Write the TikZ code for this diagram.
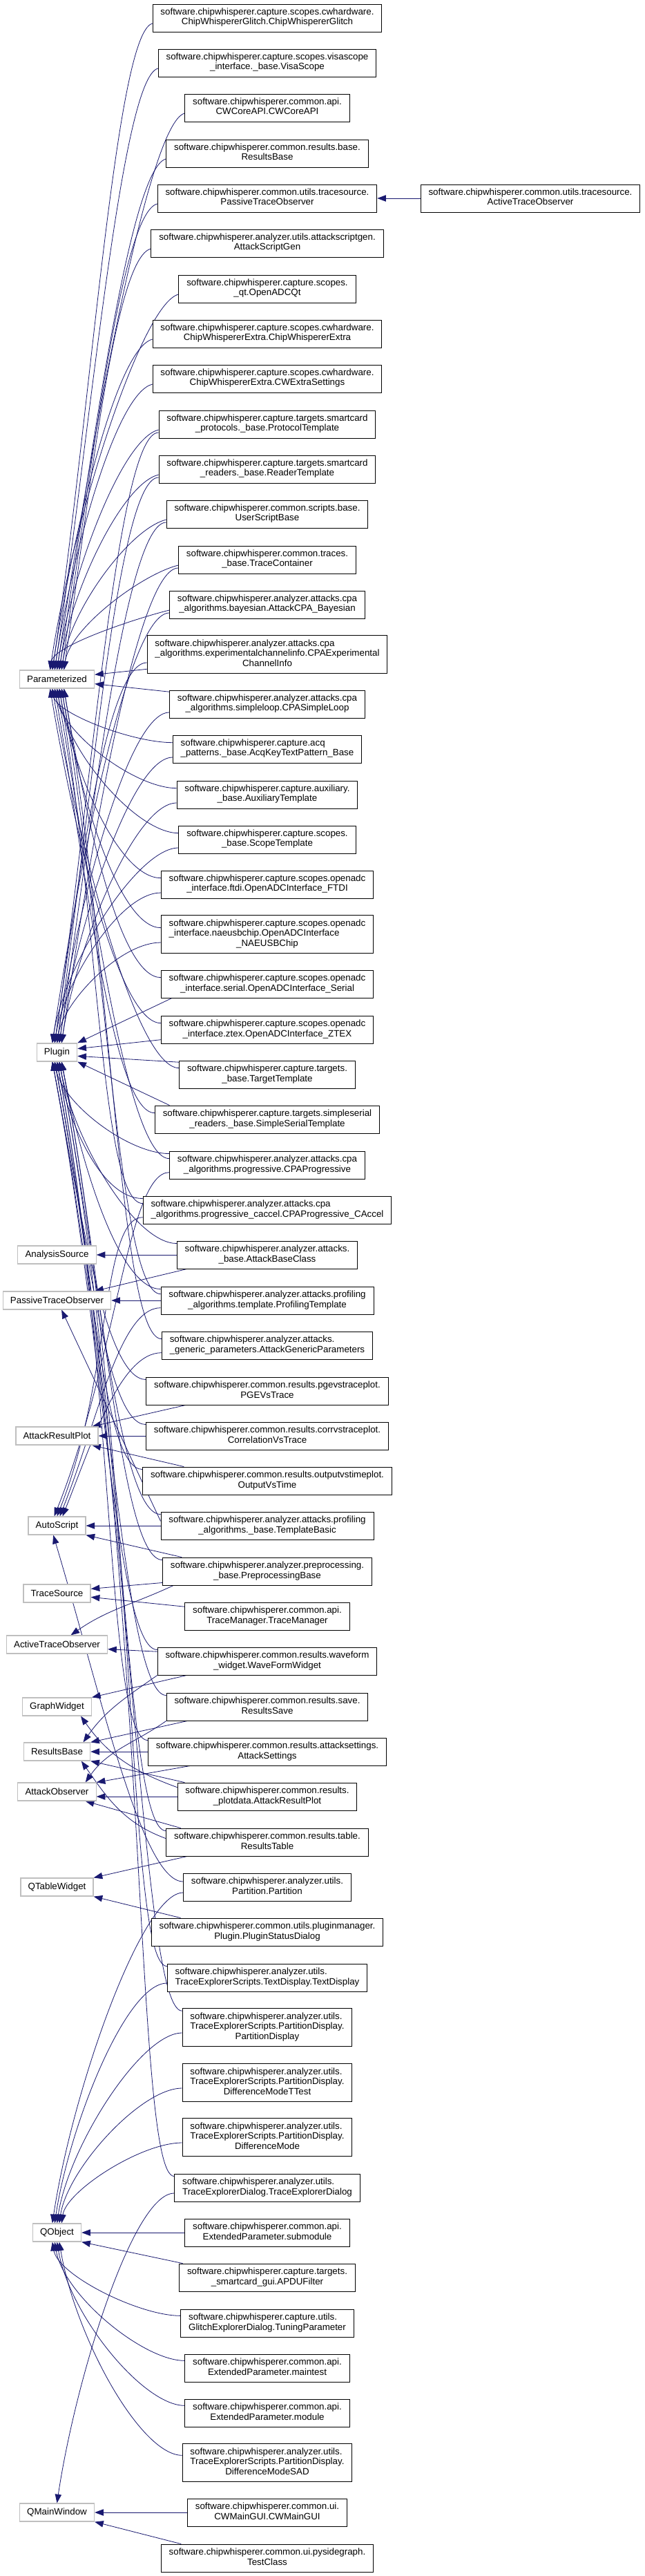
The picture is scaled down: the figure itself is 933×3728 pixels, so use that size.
\documentclass[tikz,border=0pt]{standalone}
\usepackage{fontspec}
\setmainfont{Liberation Sans}
\usetikzlibrary{arrows.meta,calc}

\definecolor{edgeblue}{RGB}{25,25,112}
\definecolor{basegrey}{RGB}{191,191,191}

\pgfdeclarelayer{bg}
\pgfdeclarelayer{edges}
\pgfsetlayers{bg,edges,main}

% class label: all lines left, last one centred
\newcommand{\clsbox}[2]{\begin{tabular}{@{}l@{}}#1\\\multicolumn{1}{@{}c@{}}{#2}\end{tabular}}

\tikzset{
  cls/.style={draw=black, line width=0.7pt, fill=white, inner xsep=8.5pt, inner ysep=0pt,
    minimum height=30pt, font=\fontsize{10}{10.7}\selectfont},
  cls3/.style={cls, minimum height=41pt},
  basecls/.style={draw=basegrey, line width=0.9pt, fill=white, inner xsep=8pt, inner ysep=0pt,
    minimum height=19.5pt, font=\fontsize{10}{10.7}\selectfont},
  inh/.style={draw=edgeblue, line width=0.6pt, -{Triangle[length=9.5pt,width=7pt]}}
}

\begin{document}
\begin{tikzpicture}[x=0.75pt, y=-0.75pt]

\begin{pgfonlayer}{bg}
  \fill[white] (0,0) rectangle (933,3728);
\end{pgfonlayer}
\useasboundingbox (0,0) rectangle (933,3728);

% base classes
\node[basecls] (param)       at (82.5,983)  {Parameterized};
\node[basecls] (plugin)      at (82.5,1523) {Plugin};
\node[basecls] (analysissrc) at (82.5,1816) {AnalysisSource};
\node[basecls] (passiveobs)  at (82.5,1882) {PassiveTraceObserver};
\node[basecls] (resultplot)  at (82.5,2078) {AttackResultPlot};
\node[basecls] (autoscript)  at (82.5,2208) {AutoScript};
\node[basecls] (tracesrc)    at (82.5,2306) {TraceSource};
\node[basecls] (activeobs)   at (82.5,2380) {ActiveTraceObserver};
\node[basecls] (graphwidget) at (82.5,2470) {GraphWidget};
\node[basecls] (resultsbase) at (82.5,2535) {ResultsBase};
\node[basecls] (attackobs)   at (82.5,2593) {AttackObserver};
\node[basecls] (qtable)      at (82.5,2731) {QTableWidget};
\node[basecls] (qobject)     at (82.5,3231) {QObject};
\node[basecls] (qmainwin)    at (82.5,3636) {QMainWindow};

% derived classes
\node[cls] (glitch)     at (387,26)   {\clsbox{software.chipwhisperer.capture.scopes.cwhardware.}{ChipWhispererGlitch.ChipWhispererGlitch}};
\node[cls] (visa)       at (387,91)   {\clsbox{software.chipwhisperer.capture.scopes.visascope}{\_interface.\_base.VisaScope}};
\node[cls] (coreapi)    at (387,156)  {\clsbox{software.chipwhisperer.common.api.}{CWCoreAPI.CWCoreAPI}};
\node[cls] (resbase)    at (387,222)  {\clsbox{software.chipwhisperer.common.results.base.}{ResultsBase}};
\node[cls] (passive)    at (387,287)  {\clsbox{software.chipwhisperer.common.utils.tracesource.}{PassiveTraceObserver}};
\node[cls] (active)     at (768,287)  {\clsbox{software.chipwhisperer.common.utils.tracesource.}{ActiveTraceObserver}};
\node[cls] (scriptgen)  at (387,352)  {\clsbox{software.chipwhisperer.analyzer.utils.attackscriptgen.}{AttackScriptGen}};
\node[cls] (adcqt)      at (387,418)  {\clsbox{software.chipwhisperer.capture.scopes.}{\_qt.OpenADCQt}};
\node[cls] (cwextra)    at (387,483)  {\clsbox{software.chipwhisperer.capture.scopes.cwhardware.}{ChipWhispererExtra.ChipWhispererExtra}};
\node[cls] (extraset)   at (387,548)  {\clsbox{software.chipwhisperer.capture.scopes.cwhardware.}{ChipWhispererExtra.CWExtraSettings}};
\node[cls] (protocol)   at (387,614)  {\clsbox{software.chipwhisperer.capture.targets.smartcard}{\_protocols.\_base.ProtocolTemplate}};
\node[cls] (reader)     at (387,679)  {\clsbox{software.chipwhisperer.capture.targets.smartcard}{\_readers.\_base.ReaderTemplate}};
\node[cls] (userscript) at (387,744)  {\clsbox{software.chipwhisperer.common.scripts.base.}{UserScriptBase}};
\node[cls] (tracecont)  at (387,810)  {\clsbox{software.chipwhisperer.common.traces.}{\_base.TraceContainer}};
\node[cls] (bayesian)   at (387,875)  {\clsbox{software.chipwhisperer.analyzer.attacks.cpa}{\_algorithms.bayesian.AttackCPA\_Bayesian}};
\node[cls3] (expchan)   at (387,947)  {\clsbox{software.chipwhisperer.analyzer.attacks.cpa\\\_algorithms.experimentalchannelinfo.CPAExperimental}{ChannelInfo}};
\node[cls] (simpleloop) at (387,1019) {\clsbox{software.chipwhisperer.analyzer.attacks.cpa}{\_algorithms.simpleloop.CPASimpleLoop}};
\node[cls] (acqkey)     at (387,1084) {\clsbox{software.chipwhisperer.capture.acq}{\_patterns.\_base.AcqKeyTextPattern\_Base}};
\node[cls] (auxtmpl)    at (387,1150) {\clsbox{software.chipwhisperer.capture.auxiliary.}{\_base.AuxiliaryTemplate}};
\node[cls] (scopetmpl)  at (387,1215) {\clsbox{software.chipwhisperer.capture.scopes.}{\_base.ScopeTemplate}};
\node[cls] (ftdi)       at (387,1280) {\clsbox{software.chipwhisperer.capture.scopes.openadc}{\_interface.ftdi.OpenADCInterface\_FTDI}};
\node[cls3] (naeusb)    at (387,1352) {\clsbox{software.chipwhisperer.capture.scopes.openadc\\\_interface.naeusbchip.OpenADCInterface}{\_NAEUSBChip}};
\node[cls] (serial)     at (387,1424) {\clsbox{software.chipwhisperer.capture.scopes.openadc}{\_interface.serial.OpenADCInterface\_Serial}};
\node[cls] (ztex)       at (387,1490) {\clsbox{software.chipwhisperer.capture.scopes.openadc}{\_interface.ztex.OpenADCInterface\_ZTEX}};
\node[cls] (targettmpl) at (387,1555) {\clsbox{software.chipwhisperer.capture.targets.}{\_base.TargetTemplate}};
\node[cls] (sstmpl)     at (387,1620) {\clsbox{software.chipwhisperer.capture.targets.simpleserial}{\_readers.\_base.SimpleSerialTemplate}};
\node[cls] (cpaprog)    at (387,1686) {\clsbox{software.chipwhisperer.analyzer.attacks.cpa}{\_algorithms.progressive.CPAProgressive}};
\node[cls] (caccel)     at (387,1751) {\clsbox{software.chipwhisperer.analyzer.attacks.cpa}{\_algorithms.progressive\_caccel.CPAProgressive\_CAccel}};
\node[cls] (attackbase) at (387,1816) {\clsbox{software.chipwhisperer.analyzer.attacks.}{\_base.AttackBaseClass}};
\node[cls] (proftmpl)   at (387,1882) {\clsbox{software.chipwhisperer.analyzer.attacks.profiling}{\_algorithms.template.ProfilingTemplate}};
\node[cls] (genparams)  at (387,1947) {\clsbox{software.chipwhisperer.analyzer.attacks.}{\_generic\_parameters.AttackGenericParameters}};
\node[cls] (pgevs)      at (387,2013) {\clsbox{software.chipwhisperer.common.results.pgevstraceplot.}{PGEVsTrace}};
\node[cls] (corrvs)     at (387,2078) {\clsbox{software.chipwhisperer.common.results.corrvstraceplot.}{CorrelationVsTrace}};
\node[cls] (outvs)      at (387,2143) {\clsbox{software.chipwhisperer.common.results.outputvstimeplot.}{OutputVsTime}};
\node[cls] (tmplbasic)  at (387,2208) {\clsbox{software.chipwhisperer.analyzer.attacks.profiling}{\_algorithms.\_base.TemplateBasic}};
\node[cls] (preproc)    at (387,2274) {\clsbox{software.chipwhisperer.analyzer.preprocessing.}{\_base.PreprocessingBase}};
\node[cls] (tracemgr)   at (387,2339) {\clsbox{software.chipwhisperer.common.api.}{TraceManager.TraceManager}};
\node[cls] (waveform)   at (387,2404) {\clsbox{software.chipwhisperer.common.results.waveform}{\_widget.WaveFormWidget}};
\node[cls] (ressave)    at (387,2470) {\clsbox{software.chipwhisperer.common.results.save.}{ResultsSave}};
\node[cls] (attset)     at (387,2535) {\clsbox{software.chipwhisperer.common.results.attacksettings.}{AttackSettings}};
\node[cls] (plotdata)   at (387,2600) {\clsbox{software.chipwhisperer.common.results.}{\_plotdata.AttackResultPlot}};
\node[cls] (restable)   at (387,2666) {\clsbox{software.chipwhisperer.common.results.table.}{ResultsTable}};
\node[cls] (partition)  at (387,2731) {\clsbox{software.chipwhisperer.analyzer.utils.}{Partition.Partition}};
\node[cls] (plugstat)   at (387,2796) {\clsbox{software.chipwhisperer.common.utils.pluginmanager.}{Plugin.PluginStatusDialog}};
\node[cls] (textdisp)   at (387,2862) {\clsbox{software.chipwhisperer.analyzer.utils.}{TraceExplorerScripts.TextDisplay.TextDisplay}};
\node[cls3] (partdisp)  at (387,2934) {\clsbox{software.chipwhisperer.analyzer.utils.\\TraceExplorerScripts.PartitionDisplay.}{PartitionDisplay}};
\node[cls3] (diffttest) at (387,3014) {\clsbox{software.chipwhisperer.analyzer.utils.\\TraceExplorerScripts.PartitionDisplay.}{DifferenceModeTTest}};
\node[cls3] (diffmode)  at (387,3093) {\clsbox{software.chipwhisperer.analyzer.utils.\\TraceExplorerScripts.PartitionDisplay.}{DifferenceMode}};
\node[cls] (texdialog)  at (387,3166) {\clsbox{software.chipwhisperer.analyzer.utils.}{TraceExplorerDialog.TraceExplorerDialog}};
\node[cls] (submodule)  at (387,3231) {\clsbox{software.chipwhisperer.common.api.}{ExtendedParameter.submodule}};
\node[cls] (apdu)       at (387,3296) {\clsbox{software.chipwhisperer.capture.targets.}{\_smartcard\_gui.APDUFilter}};
\node[cls] (tuning)     at (387,3362) {\clsbox{software.chipwhisperer.capture.utils.}{GlitchExplorerDialog.TuningParameter}};
\node[cls] (maintest)   at (387,3427) {\clsbox{software.chipwhisperer.common.api.}{ExtendedParameter.maintest}};
\node[cls] (module)     at (387,3492) {\clsbox{software.chipwhisperer.common.api.}{ExtendedParameter.module}};
\node[cls3] (diffsad)   at (387,3564) {\clsbox{software.chipwhisperer.analyzer.utils.\\TraceExplorerScripts.PartitionDisplay.}{DifferenceModeSAD}};
\node[cls] (mainqui)    at (387,3636) {\clsbox{software.chipwhisperer.common.ui.}{CWMainGUI.CWMainGUI}};
\node[cls] (testclass)  at (387,3702) {\clsbox{software.chipwhisperer.common.ui.pysidegraph.}{TestClass}};

\begin{pgfonlayer}{edges}
% Parameterized
\foreach \c [count=\i] in {glitch,visa,coreapi,resbase,passive,scriptgen,adcqt,cwextra,extraset,protocol,reader,userscript,tracecont,bayesian}
  \draw[inh] let \p1=([yshift=-6pt]\c.west), \p2=([xshift={(mod(\i,7)-3)*2.5pt}]param.north), \n1={0.4*abs(\y1-\y2)} in
    (\p1) .. controls ([xshift=-40pt,yshift=-10pt]\p1) and ([xshift={0.15*\n1},yshift=\n1]\p2) .. (\p2);
\draw[inh] ([yshift=-16pt]expchan.west) -- ([yshift=5pt]param.east);
\draw[inh] ([yshift=-2pt]simpleloop.north west) -- ([yshift=-5pt]param.east);
\foreach \c [count=\i] in {acqkey,auxtmpl,scopetmpl,ftdi,naeusb,serial,ztex,targettmpl,sstmpl,cpaprog,caccel,proftmpl,genparams}
  \draw[inh] let \p1=([yshift=7pt]\c.west), \p2=([xshift={(mod(\i,7)-3)*2.5pt}]param.south), \n1={0.45*abs(\y1-\y2)} in
    (\p1) .. controls ([xshift=-45pt]\p1) and ([xshift={0.17*\n1},yshift=-\n1]\p2) .. (\p2);

% Plugin
\foreach \c [count=\i] in {protocol,reader,userscript,tracecont,bayesian,expchan,simpleloop,acqkey,auxtmpl,scopetmpl,ftdi,naeusb}
  \draw[inh] let \p1=([yshift=-9pt]\c.west), \p2=([xshift={(mod(\i,5)-2)*2.5pt}]plugin.north), \n1={0.4*abs(\y1-\y2)} in
    (\p1) .. controls ([xshift=-45pt]\p1) and ([xshift={0.15*\n1},yshift=\n1]\p2) .. (\p2);
\draw[inh] ([xshift=12pt]serial.south west) -- (plugin.north east);
\draw[inh] ([yshift=-11pt]ztex.west) -- ([yshift=4pt]plugin.east);
\draw[inh] ([yshift=-2pt]targettmpl.north west) -- ([yshift=-4pt]plugin.east);
\draw[inh] ([xshift=16pt]sstmpl.north west) -- (plugin.south east);
\foreach \c [count=\i] in {cpaprog,caccel,attackbase,proftmpl,pgevs,corrvs,outvs,tmplbasic,preproc,waveform,ressave,attset,restable,textdisp,partdisp,texdialog}
  \draw[inh] let \p1=([yshift=-3pt]\c.north west), \p2=([xshift={(mod(\i,5)-2)*2.5pt}]plugin.south), \n1={0.45*abs(\y1-\y2)} in
    (\p1) .. controls ([xshift=-45pt]\p1) and ([xshift={0.19*\n1},yshift=-\n1]\p2) .. (\p2);

% attacks and traces
\draw[inh] (attackbase.west) -- (analysissrc.east);
\draw[inh] ([xshift=11pt]attackbase.south west) -- ([xshift=-18pt]passiveobs.north east);
\draw[inh] (proftmpl.west) -- (passiveobs.east);
\draw[inh] ([yshift=5pt]tmplbasic.west) -- ([xshift=5pt]passiveobs.south);
\draw[inh] ([xshift=43pt]pgevs.south west) -- ([xshift=-7pt]resultplot.north east);
\draw[inh] (corrvs.west) -- (resultplot.east);
\draw[inh] ([xshift=45pt]outvs.north west) -- ([xshift=-7pt]resultplot.south east);
\foreach \c [count=\i] in {cpaprog,caccel,proftmpl,genparams}
  \draw[inh] let \p1=([yshift=-8pt]\c.west), \p2=([xshift={(\i-2)*3pt}]autoscript.north), \n1={0.45*abs(\y1-\y2)} in
    (\p1) .. controls ([xshift=-45pt]\p1) and ([xshift={0.4*\n1},yshift=\n1]\p2) .. (\p2);
\draw[inh] (tmplbasic.west) -- (autoscript.east);
\draw[inh] ([xshift=21pt]preproc.north west) -- (autoscript.south east);
\draw[inh] let \p1=([yshift=6pt]partition.west), \p2=([xshift=-4pt]autoscript.south), \n1={0.45*abs(\y1-\y2)} in
  (\p1) .. controls ([xshift=-45pt]\p1) and ([xshift={0.3*\n1},yshift=-\n1]\p2) .. (\p2);
\draw[inh] ([yshift=3pt]preproc.south west) -- ([yshift=5pt]tracesrc.east);
\draw[inh] ([yshift=-5pt]tracemgr.north west) -- ([yshift=-4pt]tracesrc.east);
\draw[inh] ([xshift=12pt]preproc.south west) to[out=205, in=35] ([xshift=15pt]activeobs.north);
\draw[inh] ([yshift=-5pt]waveform.north west) -- ([yshift=-5pt]activeobs.east);
\draw[inh] (active.west) -- (passive.east);

% results
\draw[inh] ([xshift=32pt]waveform.south west) -- (graphwidget.north east);
\draw[inh] ([yshift=10pt]plotdata.west) to[out=160, in=-55] ([xshift=-12pt]graphwidget.south east);
\draw[inh] (waveform.south west) to[out=215, in=55] ([xshift=-8pt]resultsbase.north east);
\draw[inh] ([xshift=23pt]ressave.south west) -- (resultsbase.north east);
\draw[inh] (attset.west) -- (resultsbase.east);
\draw[inh] ([xshift=8pt]plotdata.north west) -- (resultsbase.south east);
\draw[inh] ([yshift=4pt]restable.west) to[out=160, in=-55] ([xshift=-10pt]resultsbase.south east);
\draw[inh] (ressave.south west) to[out=215, in=55] ([xshift=-12pt]attackobs.north east);
\draw[inh] ([xshift=46pt]attset.south west) -- (attackobs.north east);
\draw[inh] (plotdata.west) -- (plotdata.west -| attackobs.east);
\draw[inh] ([xshift=16pt]restable.north west) -- ([xshift=-12pt]attackobs.south east);
\draw[inh] ([xshift=23pt]restable.south west) -- (qtable.north east);
\draw[inh] ([xshift=32pt]plugstat.north west) -- (qtable.south east);

% Qt
\foreach \c [count=\i] in {partition,textdisp,partdisp,diffttest,diffmode}
  \draw[inh] let \p1=([yshift=-6pt]\c.west), \p2=([xshift={(\i-3)*2.5pt}]qobject.north), \n1={0.4*abs(\y1-\y2)} in
    (\p1) .. controls ([xshift=-45pt]\p1) and ([xshift={0.15*\n1},yshift=\n1]\p2) .. (\p2);
\draw[inh] (submodule.west) -- (qobject.east);
\draw[inh] ([xshift=4pt]apdu.north west) -- (qobject.south east);
\foreach \c [count=\i] in {tuning,maintest,module,diffsad}
  \draw[inh] let \p1=([yshift=8pt]\c.west), \p2=([xshift={(\i-3)*2.5pt}]qobject.south), \n1={0.45*abs(\y1-\y2)} in
    (\p1) .. controls ([xshift=-45pt]\p1) and ([xshift={0.17*\n1},yshift=-\n1]\p2) .. (\p2);
\draw[inh] let \p1=([yshift=-6pt]texdialog.west), \p2=(qmainwin.north), \n1={0.4*abs(\y1-\y2)} in
  (\p1) .. controls ([xshift=-45pt]\p1) and ([xshift={0.15*\n1},yshift=\n1]\p2) .. (\p2);
\draw[inh] (mainqui.west) -- (qmainwin.east);
\draw[inh] ([xshift=22pt]testclass.north west) -- (qmainwin.south east);
\end{pgfonlayer}

\end{tikzpicture}
\end{document}
